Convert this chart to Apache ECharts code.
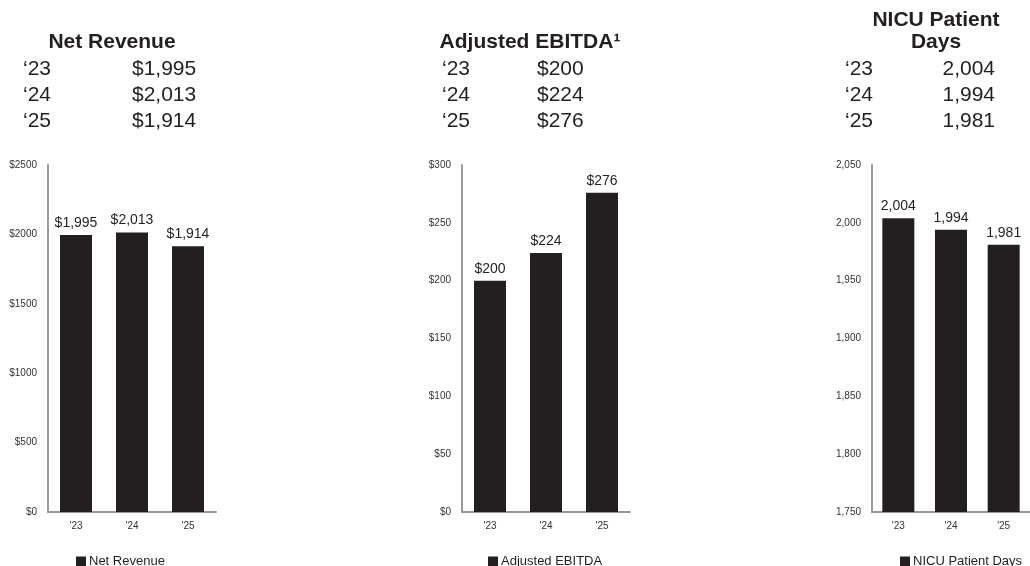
<!DOCTYPE html>
<html>
<head>
<meta charset="utf-8">
<script src="https://cdn.jsdelivr.net/npm/echarts@6/dist/echarts.min.js"></script>
<style>html,body{margin:0;padding:0;background:#fff}#c{width:1030px;height:566px}</style>
</head>
<body>
<div id="c"></div>
<script>
// ---- data ----
const axisYears = ["'23", "'24", "'25"];
const tableYears = ['\u201823', '\u201824', '\u201825'];
const revenue = [1995, 2013, 1914];
const ebitda = [200, 224, 276];
const nicu = [2004, 1994, 1981];
const titles = ['Net Revenue', 'Adjusted EBITDA\u00b9', 'NICU Patient\nDays'];
const seriesNames = ['Net Revenue', 'Adjusted EBITDA', 'NICU Patient Days'];
const revenueTicks = [0, 2500, 500];
const ebitdaTicks = [0, 300, 50];
const nicuTicks = [1750, 2050, 50];

const FONT = '"Liberation Sans", Arial, Helvetica, sans-serif';
const INK = '#231f20';
const fmtComma = v => v.toLocaleString('en-US');
const fmtMoney = v => '$' + fmtComma(v);

const panels = [
  { data: revenue, ticks: revenueTicks, tick: v => '$' + v, lab: fmtMoney,
    gridLeft: 48, titleX: 112, yearX: 23, valX: 132, valAlign: 'left', legendLeft: 71 },
  { data: ebitda, ticks: ebitdaTicks, tick: v => '$' + v, lab: fmtMoney,
    gridLeft: 462, titleX: 530, yearX: 442, valX: 537, valAlign: 'left', legendLeft: 483 },
  { data: nicu, ticks: nicuTicks, tick: fmtComma, lab: fmtComma,
    gridLeft: 872, titleX: 936, yearX: 845, valX: 995, valAlign: 'right', legendLeft: 895 }
];

const graphic = [];
panels.forEach((p, i) => {
  graphic.push({
    type: 'text', x: p.titleX, y: 53,
    style: { text: titles[i], font: 'bold 21px ' + FONT, fill: INK,
             align: 'center', verticalAlign: 'bottom', lineHeight: 22 }
  });
  p.data.forEach((v, j) => {
    const y = 69 + j * 26;
    graphic.push({ type: 'text', x: p.yearX, y: y,
      style: { text: tableYears[j], font: '21px ' + FONT, fill: INK, align: 'left', verticalAlign: 'middle' } });
    graphic.push({ type: 'text', x: p.valX, y: y,
      style: { text: p.lab(v), font: '21px ' + FONT, fill: INK, align: p.valAlign, verticalAlign: 'middle' } });
  });
});

const option = {
  animation: false,
  backgroundColor: '#fff',
  textStyle: { fontFamily: FONT },
  graphic: graphic,
  grid: panels.map(p => ({ left: p.gridLeft, width: 168, top: 165, bottom: 54, containLabel: false })),
  legend: panels.map((p, i) => ({
    data: [seriesNames[i]], left: p.legendLeft, top: 550, icon: 'rect',
    itemWidth: 10, itemHeight: 10, itemGap: 4,
    textStyle: { fontSize: 13, color: INK, fontFamily: FONT, padding: [0, 0, 0, -2] }
  })),
  xAxis: panels.map((p, i) => ({
    type: 'category', gridIndex: i, data: axisYears,
    axisLine: { lineStyle: { color: '#9a9a9c', width: 2 } },
    axisTick: { show: false },
    axisLabel: { fontSize: 10, color: '#333', margin: 9, fontFamily: FONT }
  })),
  yAxis: panels.map((p, i) => ({
    type: 'value', gridIndex: i, min: p.ticks[0], max: p.ticks[1], interval: p.ticks[2],
    axisLine: { show: true, lineStyle: { color: '#9a9a9c', width: 2 } },
    axisTick: { show: false },
    splitLine: { show: false },
    axisLabel: { fontSize: 10, color: '#333', margin: 11, fontFamily: FONT, formatter: p.tick }
  })),
  series: panels.map((p, i) => ({
    type: 'bar', name: seriesNames[i], xAxisIndex: i, yAxisIndex: i,
    data: p.data, barWidth: 32,
    itemStyle: { color: INK },
    label: { show: true, position: 'top', distance: 5, fontSize: 14, color: INK,
             fontFamily: FONT, formatter: d => p.lab(d.value) }
  }))
};

echarts.init(document.getElementById('c'), null, { renderer: 'canvas' }).setOption(option);
</script>
</body>
</html>
